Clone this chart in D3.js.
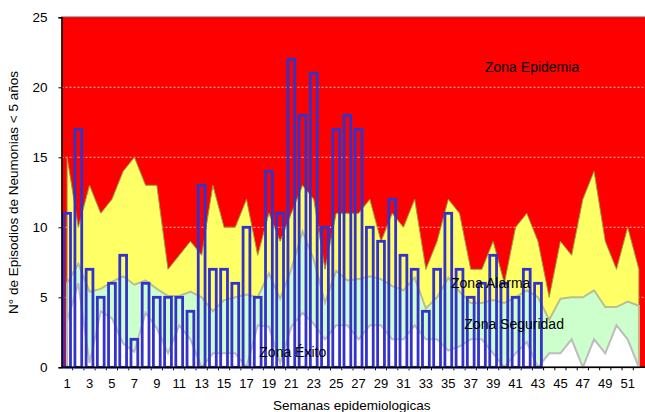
<!DOCTYPE html>
<html><head><meta charset="utf-8">
<script src="https://cdn.jsdelivr.net/npm/d3@7"></script>
<style>html,body{margin:0;padding:0;background:#fff;overflow:hidden}svg{display:block;font-family:"Liberation Sans",Arial,sans-serif}</style>
</head><body><svg id="c" width="645" height="412"></svg>
<script>
const weeks = d3.range(1, 53);
const casos = [11,17,7,5,6,8,2,6,5,5,5,4,13,7,7,6,10,5,14,11,22,18,21,10,17,18,17,10,9,12,8,7,4,7,11,7,5,6,8,6,5,7,6];
const zonaAlarma = [15,10,13,11,12,14,15,13,13,7,8,9,8,13,10,10,12,8,11,9,11,13,12,7,11,11,11,12,9,11,10,12,7,9,12,11,7,7,9,6,10,11,9,5,9,8,12,14,9,7,10,7];
const zonaSeguridad = [6.0,7.4,5.4,5.6,6.1,6.5,5.9,6.2,5.6,5.1,5.1,5.4,5.0,4.0,4.8,5.0,5.2,5.0,6.7,4.9,7.0,9.7,7.7,4.6,6.9,6.2,6.3,6.5,6.3,5.8,5.5,6.4,4.2,5.0,6.4,5.4,4.6,4.6,4.8,4.6,5.0,5.5,5.0,3.4,4.9,5.0,5.0,5.5,4.3,4.3,4.7,4.4];
const zonaExito = [3.3,6.0,0.3,4.0,3.5,1.7,1.1,3.9,2.8,1.0,3.0,2.0,0,1,1,1,0,3,2.9,0.3,2.9,3.9,3.1,2,3,3,2,3,3,2,2,3,2,2,1.2,1.5,2,2,1,0,1,1.8,0,1,1,2,0,2,1,3,2,0];
const yTicks = [0, 5, 10, 15, 20, 25];
const xTickLabels = weeks.filter(w => w % 2 === 1);
const zoneNames = ["Zona Epidemia", "Zona Alarma", "Zona Seguridad", "Zona Éxito"];
const yTitle = "N° de Episodios de Neumonias < 5 años";
const xTitle = "Semanas epidemiologicas";

const svg = d3.select("#c");
const L = 61.5, R = 644.5, T = 17.3, B = 367.3;
const x = d3.scaleBand().domain(weeks).range([L, R]).paddingInner(0).paddingOuter(0);
const y = d3.scaleLinear().domain([0, 25]).range([B, T]);
const bw = x.bandwidth();
const cx = w => x(w) + bw / 2;

svg.append("rect").attr("x", L).attr("y", T).attr("width", 645 - L).attr("height", B - T).attr("fill", "#ff0000");

svg.append("g").selectAll("line").data(yTicks.filter(t => t > 0 && t < 25)).join("line")
  .attr("x1", L).attr("x2", 645).attr("y1", d => y(d)).attr("y2", d => y(d))
  .attr("stroke", "#ffc0c0").attr("stroke-width", 1).attr("stroke-dasharray", "2,2");

function areaOf(vals) {
  return d3.area().x((d, i) => cx(weeks[i])).y0(y(0)).y1(d => y(d)).curve(d3.curveLinear)(vals);
}
svg.append("path").attr("d", areaOf(zonaAlarma)).attr("fill", "#ffff66").attr("stroke", "#9a9a3a").attr("stroke-width", 1);
svg.append("path").attr("d", areaOf(zonaSeguridad)).attr("fill", "#ccffcc").attr("stroke", "#b8c090").attr("stroke-width", 2);
svg.append("path").attr("d", areaOf(zonaExito)).attr("fill", "#ffffff").attr("stroke", "#bdbdbd").attr("stroke-width", 2);

const barW = 6.8;
svg.append("g").selectAll("rect").data(casos).join("rect")
  .attr("x", (d, i) => x(weeks[i]) + (bw - barW) / 2)
  .attr("y", d => y(d))
  .attr("width", barW)
  .attr("height", d => y(0) - y(d))
  .attr("fill", "none").attr("stroke", "#3333cc").attr("stroke-width", 2.8);

svg.append("line").attr("x1", L).attr("x2", 645).attr("y1", T).attr("y2", T)
  .attr("stroke", "#800000").attr("stroke-width", 2).attr("stroke-dasharray", "1,1");

const xAxis = d3.axisBottom(x).tickSize(0).tickFormat(d => xTickLabels.includes(d) ? d : "");
const gx = svg.append("g").attr("transform", `translate(0,${B})`).call(xAxis);
gx.select(".domain").remove();
gx.selectAll("text").attr("font-size", 13).attr("fill", "#000").attr("font-family", "Liberation Sans, Arial, sans-serif").attr("dy", 0).attr("y", 21);
svg.append("g").selectAll("line").data(weeks.slice(1)).join("line")
  .attr("x1", d => x(d)).attr("x2", d => x(d)).attr("y1", B).attr("y2", B + 3).attr("stroke", "#000");
svg.append("line").attr("x1", L).attr("x2", 645).attr("y1", B).attr("y2", B).attr("stroke", "#000").attr("stroke-width", 1.5);

const yAxis = d3.axisLeft(y).tickValues(yTicks).tickSize(3).tickPadding(11);
const gy = svg.append("g").attr("transform", `translate(${L},0)`).call(yAxis);
gy.select(".domain").attr("stroke", "#000").attr("stroke-width", 1.5);
gy.selectAll("text").attr("font-size", 13.5).attr("fill", "#000").attr("font-family", "Liberation Sans, Arial, sans-serif");

svg.append("text").attr("transform", "translate(18,192.5) rotate(-90)").attr("text-anchor", "middle")
  .attr("font-size", 13.5).attr("fill", "#000").text(yTitle);
svg.append("text").attr("x", 351.7).attr("y", 410).attr("text-anchor", "middle")
  .attr("font-size", 13.5).attr("fill", "#000").text(xTitle);

const zonePos = [[485, 72], [451, 288], [464.3, 329], [259.3, 356.5]];
svg.append("g").selectAll("text").data(zoneNames).join("text")
  .attr("x", (d, i) => zonePos[i][0]).attr("y", (d, i) => zonePos[i][1])
  .attr("font-size", 14).attr("fill", "#000").text(d => d);
</script></body></html>
